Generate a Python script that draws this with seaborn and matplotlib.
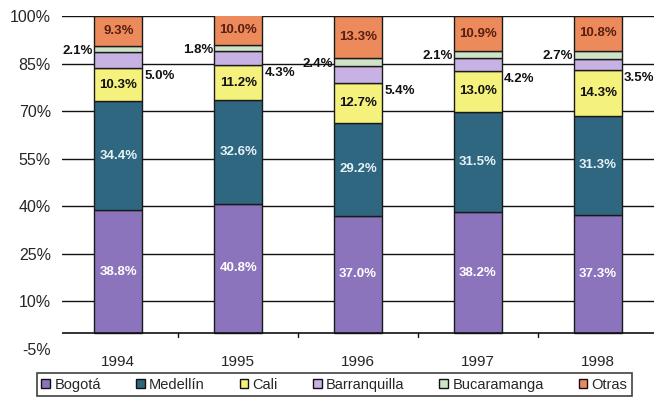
import matplotlib
matplotlib.use("Agg")
import matplotlib.pyplot as plt
from matplotlib.patches import Patch
import numpy as np
import pandas as pd
import seaborn as sns

years = ["1994", "1995", "1996", "1997", "1998"]
bogota = [38.8, 40.8, 37.0, 38.2, 37.3]
medellin = [34.4, 32.6, 29.2, 31.5, 31.3]
cali = [10.3, 11.2, 12.7, 13.0, 14.3]
barranquilla = [5.0, 4.3, 5.4, 4.2, 3.5]
bucaramanga = [2.1, 1.8, 2.4, 2.1, 2.7]
otras = [9.3, 10.0, 13.3, 10.9, 10.8]

series_names = ["Bogotá", "Medellín", "Cali", "Barranquilla", "Bucaramanga", "Otras"]
series_values = [bogota, medellin, cali, barranquilla, bucaramanga, otras]
colors = ["#8c74bd", "#2f6781", "#f4f17c", "#c7b2e3", "#cfe3c6", "#ec8a5c"]
label_colors = ["white", "#e6f2f6", "#111111", "#111111", "#111111", "#5a1e10"]

y_ticks = [-5, 10, 25, 40, 55, 70, 85, 100]

sns.set_style("white")
plt.rcParams["font.family"] = ["Liberation Sans", "DejaVu Sans"]

fig = plt.figure(figsize=(6.56, 4.03), dpi=100)
ax = fig.add_axes([62 / 656, 1 - 349 / 403, 592 / 656, 333 / 403])

# horizontal reference lines behind the bars
for t in y_ticks[1:]:
    ax.axhline(t, color="#111111", lw=1.0, zorder=0)

bottom = np.zeros(len(years))
for name, vals, col, lcol in zip(series_names, series_values, colors, label_colors):
    df = pd.DataFrame({"year": years, "share": vals})
    sns.barplot(data=df, x="year", y="share", order=years, color=col,
                width=0.4, bottom=bottom, edgecolor="#1a1a1a", linewidth=1.0,
                ax=ax, zorder=2, saturation=1)
    vals = np.array(vals)
    for i, v in enumerate(vals):
        txt = f"{v:.1f}%"
        if name == "Barranquilla":
            ax.text(i + 0.22, bottom[i] - 2.5, txt, ha="left", va="center",
                    fontsize=9.5, fontweight="bold", color=lcol, zorder=4)
        elif name == "Bucaramanga":
            ax.text(i - 0.21, bottom[i] + v / 2 - 0.5, txt, ha="right", va="center",
                    fontsize=9.5, fontweight="bold", color=lcol, zorder=4)
        else:
            ax.text(i, bottom[i] + v / 2, txt, ha="center", va="center",
                    fontsize=9.5, fontweight="bold", color=lcol, zorder=4)
    bottom = bottom + vals

# category axis drawn at zero
ax.axhline(0, color="#111111", lw=1.2, zorder=3)
for b in np.arange(0.5, len(years) - 0.5, 1.0):
    ax.plot([b, b], [0, -1.2], color="#111111", lw=1.0, zorder=3)

ax.set_xlim(-0.47, len(years) - 0.53)
ax.set_ylim(-5, 100)
ax.set_yticks(y_ticks)
ax.set_yticklabels([f"{t}%" for t in y_ticks], fontsize=11.5)
ax.tick_params(axis="y", length=0, pad=8)
ax.tick_params(axis="x", length=0, pad=4, labelsize=11)
ax.set_xlabel("")
ax.set_ylabel("")
for s in ax.spines.values():
    s.set_visible(False)

handles = [Patch(facecolor=c, edgecolor="#111111", linewidth=1.0) for c in colors]
leg = fig.legend(handles, series_names, loc="lower left",
                 bbox_to_anchor=(37 / 656, 1 - 396 / 403, 595 / 656, 24 / 403),
                 mode="expand", ncol=6, fontsize=10.5, frameon=True, fancybox=False,
                 handlelength=0.6, handleheight=0.6, handletextpad=0.3,
                 columnspacing=1.0, borderpad=0.3, borderaxespad=0)
leg.get_frame().set_edgecolor("#111111")
leg.get_frame().set_linewidth(1.2)

fig.savefig("out.png", dpi=100)
